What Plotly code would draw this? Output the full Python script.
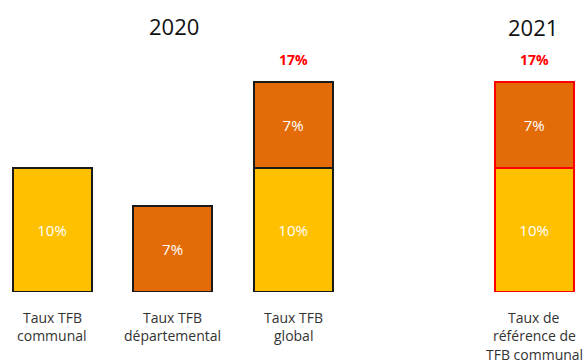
import plotly.graph_objects as go

# Data
positions = [0, 1, 2, 4]
communal = [10, None, 10, 10]
departemental = [None, 7, 7, 7]
totals = [None, None, 17, 17]
category_labels = [
    "Taux TFB<br>communal",
    "Taux TFB<br>départemental",
    "Taux TFB<br>global",
    "Taux de<br>référence de<br>TFB communal",
]
years = ["2020", "2021"]

YELLOW = "#FFC000"
ORANGE = "#E36C09"
outline = ["#1a1a1a", "#1a1a1a", "#1a1a1a", "#FF0000"]

def pct(v):
    return None if v is None else f"{v}%"

fig = go.Figure()
fig.add_trace(go.Bar(
    x=positions, y=communal, width=0.656,
    marker=dict(color=YELLOW, line=dict(color=outline, width=2)),
    text=[pct(v) for v in communal], textposition="inside",
    insidetextanchor="middle",
    textfont=dict(color="white", size=15, family="Open Sans"),
    hoverinfo="skip",
))
fig.add_trace(go.Bar(
    x=positions, y=departemental, width=0.656,
    marker=dict(color=ORANGE, line=dict(color=outline, width=2)),
    text=[pct(v) for v in departemental], textposition="inside",
    insidetextanchor="middle",
    textfont=dict(color="white", size=15, family="Open Sans"),
    hoverinfo="skip",
))

annotations = []
for xpos, t in zip(positions, totals):
    if t is not None:
        annotations.append(dict(
            x=xpos, y=t, xref="x", yref="y", text=f"<b>{t}%</b>",
            showarrow=False, yanchor="middle", yshift=23,
            font=dict(color="#FF0000", size=14, family="Open Sans"),
        ))
for xpos, lab in zip(positions, category_labels):
    for i, line in enumerate(lab.split("<br>")):
        annotations.append(dict(
            x=xpos, y=0, xref="x", yref="y", text=line, borderpad=0,
            showarrow=False, yanchor="middle", yshift=-25 - 18.5 * i,
            font=dict(color="#333333", size=14, family="Open Sans"),
        ))
year_pos = [(0.297, 0.911), (0.911, 0.906)]
for (px, py), yr in zip(year_pos, years):
    annotations.append(dict(
        x=px, y=py, xref="paper", yref="paper", text=yr, showarrow=False,
        xanchor="center", yanchor="middle",
        font=dict(color="#111111", size=22, family="Open Sans"),
    ))

fig.update_layout(
    width=585, height=363,
    margin=dict(l=0, r=0, t=0, b=71),
    barmode="stack",
    showlegend=False,
    plot_bgcolor="white", paper_bgcolor="white",
    xaxis=dict(range=[-0.432, 4.422], visible=False, fixedrange=True),
    yaxis=dict(range=[0, 23.64], visible=False, fixedrange=True),
    annotations=annotations,
    uniformtext=dict(mode="show", minsize=10),
)

fig.write_html(
    "out.html",
    config={"displayModeBar": False},
    post_script="document.body.style.margin='0';document.body.style.overflow='hidden';",
)
